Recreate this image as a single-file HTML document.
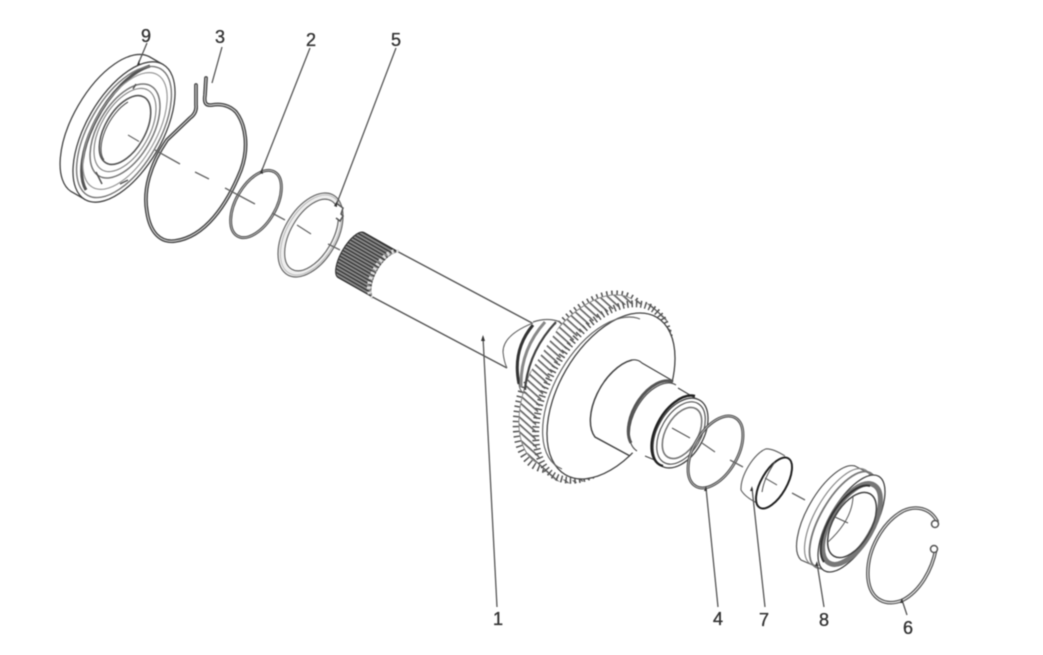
<!DOCTYPE html>
<html><head><meta charset="utf-8"><style>
html,body{margin:0;padding:0;background:#fff}
svg{display:block;filter:blur(.5px)}
text{font-family:"Liberation Sans",sans-serif;font-size:18px;fill:#333;stroke:#333;stroke-width:.35;text-anchor:middle}
</style></head><body>
<svg width="1043" height="655" viewBox="0 0 1043 655" xmlns="http://www.w3.org/2000/svg">
<defs>
<pattern id="sp" width="3.2" height="3.2" patternUnits="userSpaceOnUse" patternTransform="rotate(30)"><rect width="3.2" height="3.2" fill="#8a8a8a"/><rect width="3.2" height="1.3" fill="#333"/></pattern>
<pattern id="hel" width="5.5" height="5.5" patternUnits="userSpaceOnUse" patternTransform="rotate(42)"><rect width="5.5" height="5.5" fill="#fff"/><rect width="5.5" height="1.700" fill="#666"/></pattern>
</defs>
<rect width="1043" height="655" fill="#fff"/>
<g fill="none" stroke="#444" stroke-width="1.1">
<!-- bearing 9 -->
<path d="M149 56.500 A38 78 30 0 0 71 191.500 L85 199.500 L163 64.500 Z" fill="#fff" stroke="#444" stroke-width="1.3"/>
<ellipse cx="124" cy="132" rx="38" ry="78" transform="rotate(30 124 132)" fill="#fff" stroke-width="1.3"/>
<path d="M150 66 A36 75 30 0 0 86 190" stroke="#555" stroke-width="3"/>
<ellipse cx="124" cy="132" rx="35" ry="73" transform="rotate(30 124 132)" stroke="#777" stroke-width="1.400"/>
<ellipse cx="125" cy="131" rx="31" ry="65" transform="rotate(30 125 131)" stroke="#999" stroke-width="1.200"/>
<ellipse cx="125" cy="131" rx="27" ry="52" transform="rotate(30 125 131)" stroke="#777" stroke-width="1.500"/>
<ellipse cx="125" cy="130" rx="24" ry="46" transform="rotate(30 125 130)" stroke="#888" stroke-width="1.200"/>
<ellipse cx="125" cy="130" rx="20" ry="38" transform="rotate(30 125 130)" fill="#fff" stroke="#555" stroke-width="1.600"/>
<path d="M128 102 A18 36 30 0 0 104 160" stroke="#555"/>
<path d="M136 84l-3 5M120 184l8-4M96 172l6 12" stroke="#555" stroke-width="1.500"/>
<path d="M128 135l11 6.500" stroke="#666"/>
<!-- ring 3 -->
<path d="M196 85 L196 105 Q197 113 190 118 L167 140 C150 165 143 190 147 212 C150 232 160 243 175 241 C205 237 227 205 241 170 C249 148 246 125 236 112 C228 104 218 104 212 105 C205 106 204 102 205 95 L206 78" stroke="#444" stroke-width="3.800" stroke-linecap="round" stroke-linejoin="round"/>
<path d="M196 85 L196 105 Q197 113 190 118 L167 140 C150 165 143 190 147 212 C150 232 160 243 175 241 C205 237 227 205 241 170 C249 148 246 125 236 112 C228 104 218 104 212 105 C205 106 204 102 205 95 L206 78" stroke="#ccc" stroke-width="1.200" stroke-linecap="round" stroke-linejoin="round"/>
<!-- ring 2 -->
<ellipse cx="256" cy="204" rx="20" ry="37" transform="rotate(30 256 204)" stroke="#555" stroke-width="3"/>
<ellipse cx="256" cy="204" rx="20" ry="37" transform="rotate(30 256 204)" stroke="#bbb" stroke-width=".9"/>
<!-- ring 5 -->
<ellipse cx="311" cy="235" rx="24" ry="43" transform="rotate(30 311 235)" stroke="#eee" stroke-width="5"/>
<ellipse cx="310.500" cy="235" rx="26.500" ry="46" transform="rotate(30 310.500 235)" stroke="#666" stroke-width="1.200"/>
<ellipse cx="311" cy="235" rx="24.500" ry="44" transform="rotate(30 311 235)" stroke="#bbb" stroke-width="1"/>
<ellipse cx="311.500" cy="235" rx="21" ry="39.500" transform="rotate(30 311.500 235)" stroke="#666" stroke-width="1.200"/>
<path d="M336 203l7 5-2 6 2 2-3 5-4-3" stroke="#555" stroke-width="1.500" fill="#fff"/>
<!-- dashes left -->
<path d="M155 150L180 164M195 172L209 179M225 188L255 204M272 213L285 220M297 225L311 234M328 244L340 250" stroke="#666" stroke-width="1.300"/>
<!-- spline -->
<path d="M364 232.500 A10 26 30 0 0 338 277.500 L372.500 297 L398.500 252 Z" fill="url(#sp)" stroke="#333"/>
<ellipse cx="385.500" cy="274.500" rx="12" ry="26" transform="rotate(30 385.500 274.500)" stroke="#ddd" stroke-width="4" stroke-dasharray="2.500 2.500"/>
<ellipse cx="388" cy="276" rx="12" ry="26" transform="rotate(30 388 276)" fill="#fff" stroke="none"/>
<!-- shaft -->
<polygon points="398.500,252 532,323 507,368 372.500,297" fill="#fff" stroke="none"/>
<path d="M398.500 252L532 323M372.500 297L507 368" stroke="#555" stroke-width="1.400"/>
<!-- gear back teeth -->
<ellipse cx="583" cy="382" rx="53" ry="97" transform="rotate(30 583 382)" stroke="#555" stroke-width="7" stroke-dasharray="1.500 3.500"/>
<!-- gear body -->
<path d="M632 299 A52 94 30 0 0 537 463 L553 479 A56 100 30 0 0 653 305 Z" fill="url(#hel)" stroke="none"/>
<path d="M632 299 A52 94 30 0 0 537 463" stroke="#888" stroke-width="1"/>
<!-- gear front teeth -->
<ellipse cx="603" cy="392" rx="54" ry="97" transform="rotate(30 603 392)" fill="#fff" stroke="#555" stroke-width="7" stroke-dasharray="1.500 3"/>
<ellipse cx="611" cy="396" rx="52" ry="91" transform="rotate(30 611 396)" fill="#fff" stroke="#444" stroke-width="1.300"/>
<path d="M640 319 A46 84 30 0 0 562 469" stroke="#666" stroke-width="1.200"/>
<!-- small shoulder -->
<path d="M533 323 Q503 335 503 352 Q504 362 507 368 L522 385 L560 325 Z" fill="#fff" stroke="none"/>
<path d="M533 323 Q503 335 503 352 Q504 362 507 368" stroke="#666"/>
<path d="M533 325 Q512 350 519 384" stroke="#333" stroke-width="3"/>
<path d="M545 322 Q520 350 521 387" stroke="#888" stroke-width="3"/>
<path d="M556 322 Q528 352 525 390" stroke="#444" stroke-width="2.200"/>
<path d="M533 322 Q548 317 560 322" stroke="#666" stroke-width="1.200"/>
<path d="M519 384 Q520 394 527 393" stroke="#666"/>
<!-- hub -->
<path d="M632 360 A26 46 30 0 0 595 437 L643 457 L708 425 L673 382 Z" fill="#fff" stroke="none"/>
<path d="M632 360 A26 46 30 0 0 595 437 L630 456" stroke="#444" stroke-width="1.500"/>
<path d="M632 360 Q638 359 642 363 L673 381" stroke="#444" stroke-width="1.200"/>
<path d="M673 382 A22 38 30 0 0 631 443" stroke="#555" stroke-width="3"/>
<path d="M676 385 A22 38 30 0 0 637 451" stroke="#555" stroke-width="1.200"/>
<polygon points="693,399 700,403 666,466 659,462" fill="#fff" stroke="none"/>
<path d="M678 388L695 398M645 456L662 463" stroke="#444" stroke-width="1.200"/>
<ellipse cx="680.500" cy="433" rx="23" ry="38" transform="rotate(30 680.500 433)" fill="#fff" stroke="#444" stroke-width="1.300"/>
<path d="M695 396 A22 38 30 0 0 663 466" stroke="#222" stroke-width="2.400"/>
<ellipse cx="681" cy="433" rx="20" ry="34" transform="rotate(30 681 433)" stroke="#555" stroke-width="1.200"/>
<ellipse cx="682" cy="433" rx="16" ry="28" transform="rotate(30 682 433)" stroke="#777" stroke-width="1.600"/>
<path d="M672 428L690 438" stroke="#555"/>
<!-- ring 4 -->
<ellipse cx="715.500" cy="452" rx="22" ry="39.500" transform="rotate(30 715.500 452)" stroke="#555" stroke-width="3"/>
<ellipse cx="715.500" cy="452" rx="22" ry="39.500" transform="rotate(30 715.500 452)" stroke="#bbb" stroke-width=".9"/>
<!-- bushing 7 -->
<path d="M762 448 L781 458 L768 507 L743 497 A12.700 28.500 30 0 1 762 448Z" fill="#fff" stroke="none"/>
<path d="M765.500 449 A12.700 28.500 30 0 0 741 490 Q745 497 757 503M765.500 449 Q772 448 785 456" stroke="#666" stroke-width="1.200"/>
<ellipse cx="774" cy="483" rx="12.700" ry="28.500" transform="rotate(30 774 483)" fill="#fff" stroke="#222" stroke-width="2"/>
<path d="M775 462 Q764 478 762 492" stroke="#555"/>
<path d="M765 478L777 485" stroke="#666"/>
<!-- bearing 8 -->
<path d="M855 466 A22.500 54.500 30 0 0 801 560 L824 570 L878 478 Z" fill="#fff" stroke="#555" stroke-width="1.200"/>
<ellipse cx="838" cy="517" rx="22.500" ry="54.500" transform="rotate(30 838 517)" stroke="#888" stroke-width="1.200"/>
<ellipse cx="843" cy="520" rx="22.500" ry="54.500" transform="rotate(30 843 520)" stroke="#777" stroke-width="1.800"/>
<ellipse cx="851.500" cy="523.500" rx="22.500" ry="54.500" transform="rotate(30 851.500 523.500)" fill="#fff" stroke="#444" stroke-width="1.300"/>
<ellipse cx="851.500" cy="524" rx="21" ry="45" transform="rotate(30 851.500 524)" stroke="#777" stroke-width="5"/>
<path d="M870 486 A21 45 30 0 0 824 562" stroke="#333" stroke-width="2"/>
<ellipse cx="852" cy="525" rx="19" ry="36" transform="rotate(30 852 525)" stroke="#444" stroke-width="1.500"/>
<path d="M853 497 Q852 520 828 542" stroke="#666"/>
<path d="M835 517L848 523" stroke="#555" stroke-width="1.200"/>
<!-- ring 6 -->
<path d="M937 521 C930 508 916 505 903 511 C883 522 866 550 868 578 C870 600 886 607 903 600 C920 591 932 570 936 549" stroke="#555" stroke-width="3.600" stroke-linecap="round"/>
<path d="M937 521 C930 508 916 505 903 511 C883 522 866 550 868 578 C870 600 886 607 903 600 C920 591 932 570 936 549" stroke="#ddd" stroke-width="1.300" stroke-linecap="round"/>
<circle cx="935" cy="524" r="3.500" fill="#fff" stroke="#555" stroke-width="1.500"/>
<circle cx="934" cy="549" r="3.500" fill="#fff" stroke="#555" stroke-width="1.500"/>
<!-- dashes right -->
<path d="M702 443L715 452M730 460L743 467M792 493L805 500" stroke="#666" stroke-width="1.300"/>
<!-- leaders -->
<path d="M147 43L139 62M222 47L212 83M310 48L262 170M396 48L337 203M497 607L483 337M718 607L706 488M765 607L752 488M824 607L817 563M907 615L902 600" stroke="#555" stroke-width="1.300"/>
<path d="M483 335l-2 6h4zM262 168l-2 5 3 1zM139 60l-2 5 3 0zM706 486l-2 5h3zM752 486l-2 5h3zM817 561l-2 5h3zM902 598l-2 5 3 0zM337 201l-3 5 3 1z" fill="#333" stroke="none"/>
</g>
<text x="146" y="42">9</text>
<text x="220" y="43">3</text>
<text x="311" y="46">2</text>
<text x="396" y="46">5</text>
<text x="498" y="625">1</text>
<text x="718" y="625">4</text>
<text x="764" y="626">7</text>
<text x="824" y="626">8</text>
<text x="908" y="634">6</text>
</svg>
</body></html>
